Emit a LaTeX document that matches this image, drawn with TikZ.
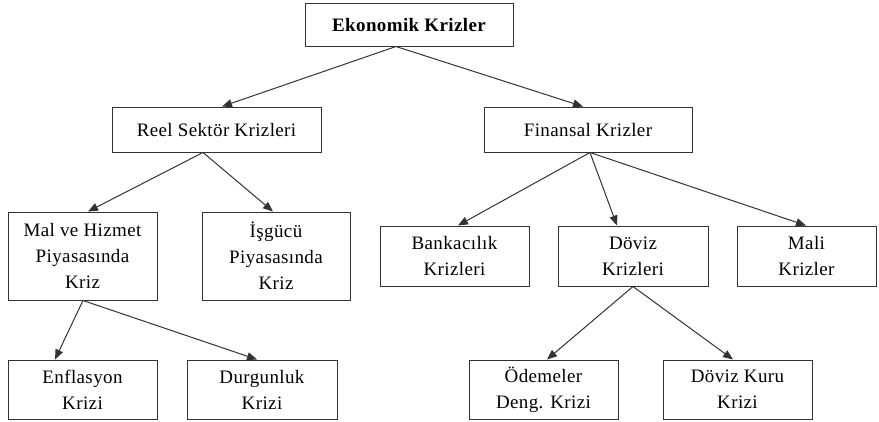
\documentclass[tikz,border=0pt]{standalone}
\usepackage{fontspec}
\setmainfont{Liberation Serif}[LetterSpace=2]
\usetikzlibrary{arrows.meta}
\begin{document}
\begin{tikzpicture}[x=1pt,y=-1pt,
  box/.style={draw=black!80, line width=1pt, rectangle, inner sep=0pt,
    align=center, font=\fontsize{19}{26}\selectfont, text=black},
  conn/.style={draw=black!80, line width=1pt, -{Triangle[length=10pt,width=8pt]}}]
\useasboundingbox (0,0) rectangle (879,421);
\fill[white] (0,0) rectangle (879,421);
% level 0
\node[box, minimum width=208pt, minimum height=43pt, font=\fontsize{19}{26}\selectfont\bfseries] (ek) at (409,24.5) {Ekonomik Krizler};
% level 1
\node[box, minimum width=209pt, minimum height=45pt] (reel) at (216.5,129.5) {Reel Sektör Krizleri};
\node[box, minimum width=208pt, minimum height=45pt] (fin) at (588,129.5) {Finansal Krizler};
% level 2
\node[box, minimum width=149pt, minimum height=88pt] (mal) at (82.5,256) {Mal ve Hizmet\\Piyasasında\\Kriz};
\node[box, minimum width=148pt, minimum height=88pt] (isg) at (276,256) {İşgücü\\Piyasasında\\Kriz};
\node[box, minimum width=149pt, minimum height=60pt] (bank) at (454.5,256) {Bankacılık\\Krizleri};
\node[box, minimum width=150pt, minimum height=60pt] (dov) at (633,256) {Döviz\\Krizleri};
\node[box, minimum width=139pt, minimum height=60pt] (mali) at (806.5,256) {Mali\\Krizler};
% level 3
\node[box, minimum width=149pt, minimum height=59pt] (enf) at (82.5,389.5) {Enflasyon\\Krizi};
\node[box, minimum width=150pt, minimum height=59pt] (durg) at (262,389.5) {Durgunluk\\Krizi};
\node[box, minimum width=149pt, minimum height=59pt] (ode) at (543.5,389.5) {Ödemeler\\Deng. Krizi};
\node[box, minimum width=149pt, minimum height=59pt] (dk) at (737.5,389.5) {Döviz Kuru\\Krizi};
% connectors
\draw[conn] ([xshift=-13pt]ek.south) -- ([xshift=5.5pt]reel.north);
\draw[conn] ([xshift=-13pt]ek.south) -- ([xshift=-5pt]fin.north);
\draw[conn] ([xshift=-13.5pt]reel.south) -- ([xshift=5.5pt]mal.north);
\draw[conn] ([xshift=-13.5pt]reel.south) -- ([xshift=-3pt]isg.north);
\draw[conn] ([xshift=2pt]fin.south) -- ([xshift=3.5pt]bank.north);
\draw[conn] ([xshift=2pt]fin.south) -- ([xshift=-16pt]dov.north);
\draw[conn] ([xshift=2pt]fin.south) -- ([xshift=-0.5pt]mali.north);
\draw[conn] ([xshift=0.5pt]mal.south) -- ([xshift=-27.5pt]enf.north);
\draw[conn] ([xshift=0.5pt]mal.south) -- ([xshift=-5pt]durg.north);
\draw[conn] (dov.south) -- ([xshift=3.5pt]ode.north);
\draw[conn] (dov.south) -- ([xshift=-4.5pt]dk.north);
\end{tikzpicture}
\end{document}
